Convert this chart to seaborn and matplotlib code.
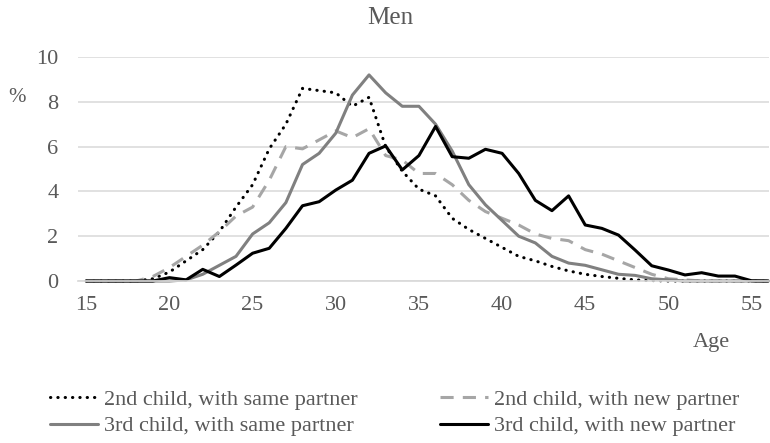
import numpy as np
import pandas as pd
import matplotlib
matplotlib.use("Agg")
import matplotlib.pyplot as plt
import seaborn as sns

ages = list(range(15, 57))

second_same = [0, 0, 0, 0, 0.1, 0.4, 0.9, 1.4, 2.2, 3.3, 4.3, 5.9, 7.0, 8.6, 8.5, 8.4, 7.8, 8.2,
               6.0, 4.9, 4.1, 3.8, 2.8, 2.3, 1.9, 1.5, 1.1, 0.9, 0.65, 0.45, 0.3, 0.2, 0.12, 0.05,
               0.02, 0, 0, 0, 0, 0, 0, 0]
second_new = [0, 0, 0, 0, 0.2, 0.6, 1.1, 1.6, 2.2, 2.9, 3.3, 4.5, 6.0, 5.9, 6.3, 6.7, 6.4, 6.8,
              5.6, 5.4, 4.8, 4.8, 4.3, 3.6, 3.1, 2.8, 2.5, 2.1, 1.9, 1.8, 1.4, 1.2, 0.9, 0.6,
              0.3, 0.1, 0.05, 0, 0, 0, 0, 0]
third_same = [0, 0, 0, 0, 0, 0, 0.05, 0.3, 0.7, 1.1, 2.1, 2.6, 3.5, 5.2, 5.7, 6.6, 8.3, 9.2,
              8.4, 7.8, 7.8, 7.0, 5.8, 4.3, 3.4, 2.7, 2.0, 1.7, 1.1, 0.8, 0.7, 0.5, 0.3, 0.25,
              0.1, 0.05, 0, 0, 0, 0, 0, 0]
third_new = [0, 0, 0, 0, 0, 0.15, 0.05, 0.52, 0.2, 0.71, 1.24, 1.46, 2.35, 3.36, 3.54, 4.06,
             4.5, 5.7, 6.03, 4.96, 5.6, 6.9, 5.55, 5.48, 5.88, 5.7, 4.8, 3.6, 3.14, 3.8, 2.5,
             2.35, 2.05, 1.38, 0.68, 0.49, 0.27, 0.37, 0.22, 0.22, 0.01, 0]

labels = ["2nd child, with same partner", "2nd child, with new partner",
          "3rd child, with same partner", "3rd child, with new partner"]
x_ticks = [15, 20, 25, 30, 35, 40, 45, 50, 55]
y_ticks = [0, 2, 4, 6, 8, 10]

sns.set_theme(style="white")
plt.rcParams['font.family'] = ['Liberation Serif', 'DejaVu Serif']

txt = "#595959"
fs = 16
fig = plt.figure(figsize=(7.7, 4.43), dpi=100)
ax = fig.add_axes([78 / 770, 1 - 281 / 443, (769 - 78) / 770, (281 - 57) / 443])

series = [second_same, second_new, third_same, third_new]
styles = [
    dict(color="black", linestyle=(0, (0.1, 2.3)), linewidth=2.2, dash_capstyle="round"),
    dict(color="#a6a6a6", linestyle=(0, (4.3, 3.0)), linewidth=2.2),
    dict(color="#808080", linestyle="-", linewidth=2.2),
    dict(color="black", linestyle="-", linewidth=2.2),
]
for vals, lab, st in zip(series, labels, styles):
    df = pd.DataFrame({"Age": ages, "v": vals})
    sns.lineplot(data=df, x="Age", y="v", ax=ax, label=lab, clip_on=False, **st)

ax.set_xlim(14.5, 56.05)
ax.set_ylim(0, 10)
ax.set_xticks(x_ticks)
ax.set_yticks(y_ticks)
ax.set_xlabel("")
ax.set_ylabel("")
ax.grid(axis="y", color="#d9d9d9", linewidth=1.1)
ax.grid(axis="x", visible=False)
for s in ["top", "right", "left"]:
    ax.spines[s].set_visible(False)
ax.spines["bottom"].set_color("#d9d9d9")
ax.tick_params(axis="both", length=0, labelsize=fs, colors=txt)
ax.tick_params(axis="y", pad=14)
ax.tick_params(axis="x", pad=11)

fig.text(390 / 770, 1 - 18 / 443, "Men", ha="center", va="center", fontsize=18, color=txt)
fig.text(17 / 770, 1 - 98 / 443, "%", ha="center", va="center", fontsize=15, color=txt)
fig.text(711 / 770, 1 - 342 / 443, "Age", ha="center", va="center", fontsize=fs, color=txt)

h, l = ax.get_legend_handles_labels()
order = [0, 2, 1, 3]
ax.legend([h[i] for i in order], [l[i] for i in order], ncol=2, frameon=False,
          loc="center left", bbox_to_anchor=(50 / 770, 1 - 413 / 443), bbox_transform=fig.transFigure,
          fontsize=fs, handlelength=2.16, handletextpad=0.27, columnspacing=3.7,
          labelspacing=0.25, borderpad=0, borderaxespad=0, labelcolor=txt)

fig.savefig("out.png", dpi=100)
